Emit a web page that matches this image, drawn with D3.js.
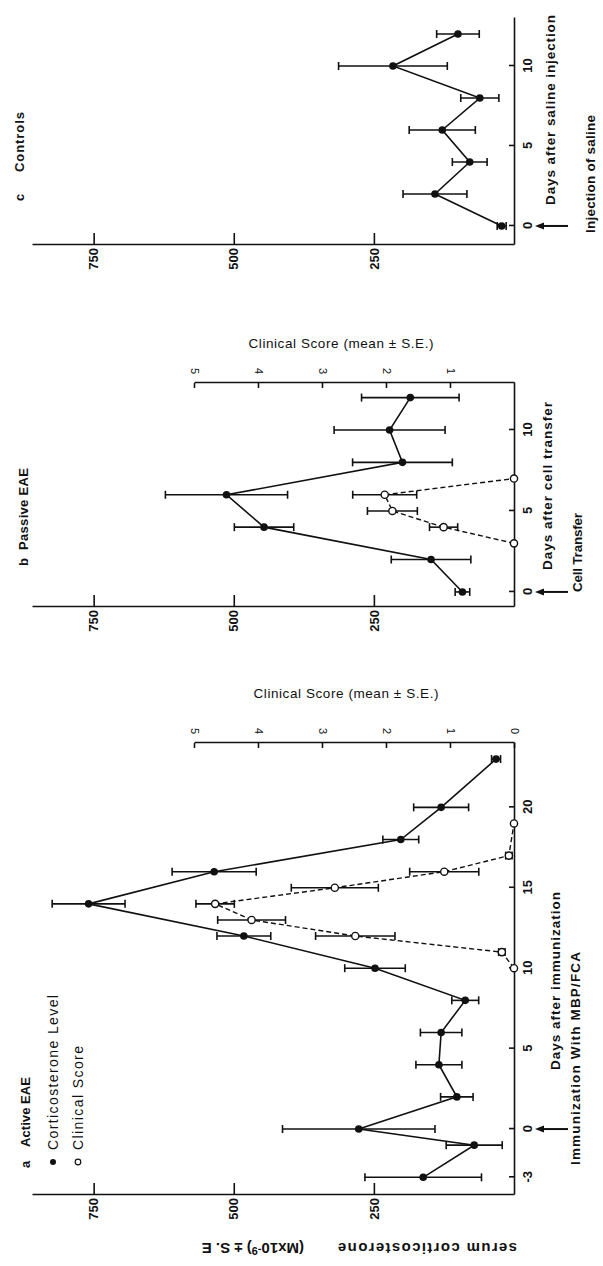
<!DOCTYPE html>
<meta charset="utf-8">
<style>
body { margin: 0; background: #fff; }
svg { font-family: "Liberation Sans", Arial, sans-serif; }
</style>
<body>
<script src="https://cdn.jsdelivr.net/npm/d3@7"></script>
<script>
// values
var daysA = [-3, -1, 0, 2, 4, 6, 8, 10, 12, 14, 16, 18, 20, 23],
	corticoA = [162, 71, 277, 102, 134, 130, 87, 248, 482, 759, 535, 202, 130, 32],
	corticoErrA = [104, 50, 136, 29, 41, 37, 24, 54, 48, 65, 75, 32, 49, 8],
	scoreDaysA = [10, 11, 12, 13, 14, 15, 16, 17, 19],
	scoreA = [0, 0.19, 2.48, 4.1, 4.67, 2.8, 1.09, 0.08, 0],
	scoreErrA = [0, 0.05, 0.62, 0.53, 0.3, 0.68, 0.54, 0.05, 0];

var daysB = [0, 2, 4, 6, 8, 10, 12],
	corticoB = [92, 148, 446, 513, 199, 222, 185],
	corticoErrB = [13, 71, 53, 109, 89, 99, 87],
	scoreDaysB = [3, 4, 5, 6, 7],
	scoreB = [0, 1.1, 1.9, 2.02, 0],
	scoreErrB = [0, 0.22, 0.39, 0.5, 0];

var daysC = [0, 2, 4, 6, 8, 10, 12],
	corticoC = [22, 141, 79, 128, 61, 216, 100],
	corticoErrC = [8, 57, 31, 59, 34, 97, 38];

var corticoTicks = [250, 500, 750],
	dayTicksA = [-3, 0, 5, 10, 15, 20],
	dayTicksBC = [0, 5, 10],
	scoreTicksA = [0, 1, 2, 3, 4, 5],
	scoreTicksB = [1, 2, 3, 4, 5];

var width = 603,
	height = 1266,
	base = 514;   // the day axis (before turning the page)

var svg = d3.select("body").append("svg")
			.attr("width", width)
			.attr("height", height);

// the figure is printed turned by a quarter
var g = svg.append("g")
			.attr("transform", "translate(0," + height + ")rotate(-90)");

var y = d3.scaleLinear().domain([0, 860]).range([base, 32]),
	yc = d3.scaleLinear().domain([0, 5]).range([base, 194]);

var panels = [
	{days: daysA, cort: corticoA, err: corticoErrA, sDays: scoreDaysA, score: scoreA, sErr: scoreErrA,
	 dom: [-4.1, 24], rng: [71, 523], ticks: dayTicksA, sTicks: scoreTicksA},
	{days: daysB, cort: corticoB, err: corticoErrB, sDays: scoreDaysB, score: scoreB, sErr: scoreErrB,
	 dom: [-0.93, 12.9], rng: [659, 883], ticks: dayTicksBC, sTicks: scoreTicksB},
	{days: daysC, cort: corticoC, err: corticoErrC,
	 dom: [-1.19, 13.0], rng: [1021, 1248], ticks: dayTicksBC}
];

function styleAxis(ax) {
	ax.attr("font-family", null).attr("font-size", null);
	ax.selectAll("path, line").style("stroke", "#111").style("stroke-width", 1.6);
	ax.selectAll("text").style("fill", "#111");
}

function errBars(layer, x, sy, days, vals, errs) {
	days.forEach(function(d, i) {
		var e = errs[i];
		if (!e) return;
		var xx = x(d), y1 = sy(vals[i] - e), y2 = sy(vals[i] + e);
		layer.append("line").attr("x1", xx).attr("x2", xx).attr("y1", y1).attr("y2", y2);
		layer.append("line").attr("x1", xx - 4).attr("x2", xx + 4).attr("y1", y1).attr("y2", y1);
		layer.append("line").attr("x1", xx - 4).attr("x2", xx + 4).attr("y1", y2).attr("y2", y2);
	});
}

panels.forEach(function(p) {
	var x = d3.scaleLinear().domain(p.dom).range(p.rng);
	var pg = g.append("g");

	var dayAx = pg.append("g")
		.attr("transform", "translate(0," + base + ")")
		.call(d3.axisBottom(x).tickValues(p.ticks).tickSizeInner(-5).tickSizeOuter(0)
			.tickPadding(9).tickFormat(function(d) { return String(d); }));
	styleAxis(dayAx);
	dayAx.selectAll("text").style("font-size", "13px").style("font-weight", "bold");

	var cAx = pg.append("g")
		.attr("transform", "translate(" + p.rng[0] + ",0)")
		.call(d3.axisLeft(y).tickValues(corticoTicks).tickSizeInner(-12).tickSizeOuter(0).tickPadding(3));
	styleAxis(cAx);
	cAx.selectAll("text").style("font-size", "13px").style("font-weight", "bold");

	if (p.score) {
		var sAx = pg.append("g")
			.attr("transform", "translate(" + p.rng[1] + ",0)")
			.call(d3.axisRight(yc).tickValues(p.sTicks).tickSizeInner(-5).tickSizeOuter(0)
				.tickFormat(function(d) { return String(d); }));
		styleAxis(sAx);
		sAx.selectAll("text")
			.attr("x", null)
			.attr("dy", "0.35em")
			.attr("text-anchor", "middle")
			.attr("transform", "translate(12,0)rotate(180)")
			.style("font-size", "11px");

		pg.append("path")
			.datum(p.sDays)
			.attr("d", d3.line().x(function(d) { return x(d); })
				.y(function(d, i) { return yc(p.score[i]); }))
			.style("fill", "none")
			.style("stroke", "#111")
			.style("stroke-width", 1.4)
			.style("stroke-dasharray", "5,3");
	}

	pg.append("path")
		.datum(p.days)
		.attr("d", d3.line().x(function(d) { return x(d); })
			.y(function(d, i) { return y(p.cort[i]); }))
		.style("fill", "none")
		.style("stroke", "#111")
		.style("stroke-width", 1.6);

	var eb = pg.append("g").style("stroke", "#111").style("stroke-width", 1.6);
	errBars(eb, x, y, p.days, p.cort, p.err);
	if (p.score) errBars(eb, x, yc, p.sDays, p.score, p.sErr);

	pg.selectAll(".pt")
		.data(p.days)
		.enter().append("circle")
		.attr("class", "pt")
		.attr("cx", function(d) { return x(d); })
		.attr("cy", function(d, i) { return y(p.cort[i]); })
		.attr("r", 3.8)
		.style("fill", "#111");

	if (p.score) {
		pg.selectAll(".op")
			.data(p.sDays)
			.enter().append("circle")
			.attr("class", "op")
			.attr("cx", function(d) { return x(d); })
			.attr("cy", function(d, i) { return yc(p.score[i]); })
			.attr("r", 3.6)
			.style("fill", "#fff")
			.style("stroke", "#111")
			.style("stroke-width", 1.4);
	}

	// arrow at day 0
	var x0 = x(0);
	pg.append("line")
		.attr("x1", x0).attr("x2", x0).attr("y1", 542).attr("y2", 568)
		.style("stroke", "#111").style("stroke-width", 2);
	pg.append("path")
		.attr("d", "M" + x0 + ",535L" + (x0 - 3.5) + ",544L" + (x0 + 3.5) + ",544Z")
		.style("fill", "#111");
});

function label(txt, X, Y, opts) {
	var t = g.append("text")
		.attr("x", X).attr("y", Y)
		.text(txt)
		.style("fill", "#111")
		.style("font-size", (opts.size || 13) + "px")
		.style("font-weight", opts.bold ? "bold" : "normal");
	if (opts.len) t.attr("textLength", opts.len);
	return t;
}

// panel titles
label("a", 98, 30, {bold: 1});
label("Active EAE", 119, 30, {bold: 1, len: 70});
label("b", 700, 28, {bold: 1});
label("Passive EAE", 716, 28, {bold: 1, len: 82});
label("c", 1065, 24, {bold: 1});
label("Controls", 1094, 24, {bold: 1, len: 60});

// legend
g.append("circle").attr("cx", 104).attr("cy", 53).attr("r", 3).style("fill", "#111");
label("Corticosterone Level", 116, 58, {size: 14, len: 155});
g.append("circle").attr("cx", 104).attr("cy", 78).attr("r", 2.8)
	.style("fill", "#fff").style("stroke", "#111").style("stroke-width", 1.2);
label("Clinical Score", 116, 83, {size: 14, len: 104});

// day axis titles and event notes
label("Days after immunization", 196, 560, {bold: 1, size: 13.5, len: 178});
label("Immunization With MBP/FCA", 101, 580, {bold: 1, size: 13.5, len: 213});
label("Days after cell transfer", 696, 552, {bold: 1, size: 13.5, len: 168});
label("Cell Transfer", 674, 582, {bold: 1, size: 13.5, len: 79});
label("Days after saline injection", 1061, 555, {bold: 1, size: 13.5, len: 190});
label("Injection of saline", 1033, 595, {bold: 1, size: 13.5, len: 118});

// corticosterone axis title (reads upward)
var yt = g.append("text")
	.attr("transform", "translate(23,517)rotate(-90)")
	.style("fill", "#111")
	.style("font-size", "15px")
	.style("font-weight", "bold");
yt.append("tspan").attr("x", 0).text("serum corticosterone").attr("textLength", 179);
yt.append("tspan").attr("x", 213).text("(Mx10");
yt.append("tspan").attr("dy", -4).style("font-size", "11px").text("-9");
yt.append("tspan").attr("dy", 4).text(") \u00b1 S. E");

// clinical score titles (read downward)
[{X: 568, Y: 346}, {X: 918, Y: 341}].forEach(function(c) {
	g.append("text")
		.attr("transform", "translate(" + c.X + "," + c.Y + ")rotate(90)")
		.attr("text-anchor", "middle")
		.attr("textLength", 185)
		.style("fill", "#111")
		.style("font-size", "13.5px")
		.text("Clinical Score (mean \u00b1 S.E.)");
});
</script>
</body>
